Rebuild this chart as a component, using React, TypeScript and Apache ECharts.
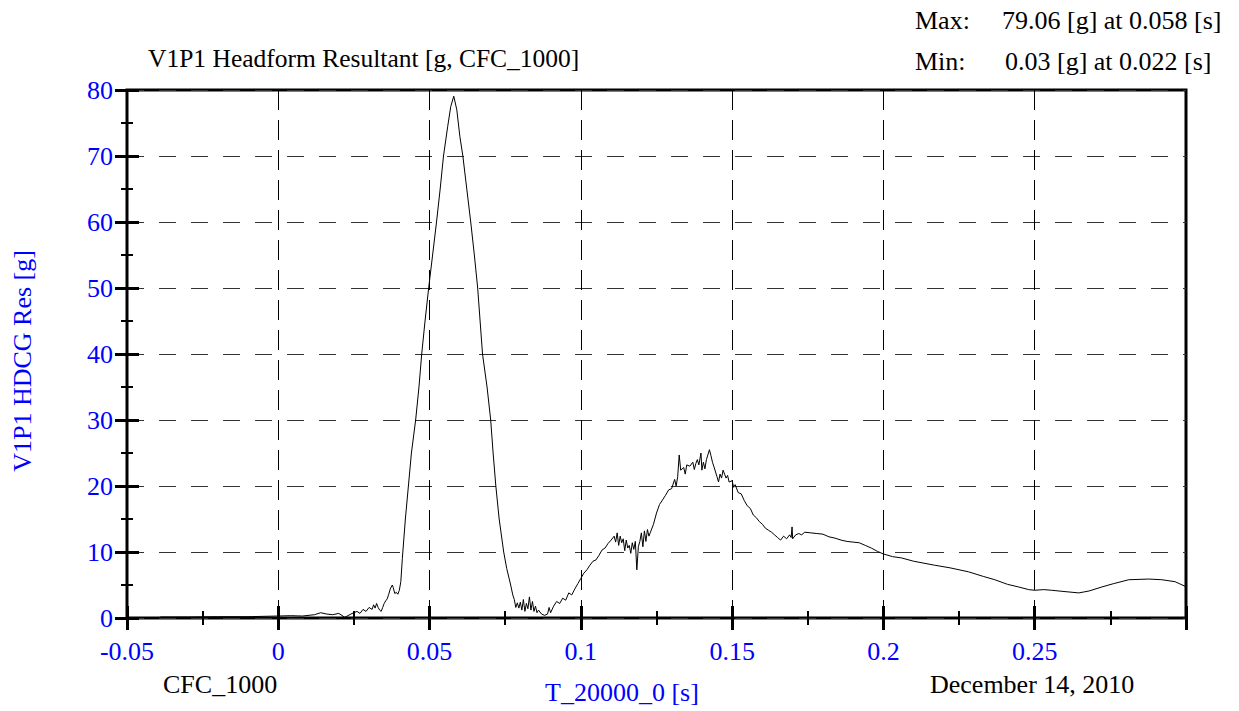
import React, { useEffect, useRef } from "react";
import * as echarts from "echarts";

// Time [s] / acceleration [g] samples, by segment
const baseline: [number, number][] = [
  [-0.039, 0.15], [-0.03, 0.15], [-0.02, 0.2], [-0.01, 0.2], [0.0, 0.3], [0.004, 0.35],
  [0.008, 0.3], [0.012, 0.5], [0.014, 0.8], [0.016, 0.6], [0.018, 0.5], [0.02, 0.7],
  [0.022, 0.1], [0.024, 0.6], [0.026, 1.0], [0.027, 0.7], [0.028, 1.3], [0.029, 1.0],
  [0.03, 1.6], [0.031, 1.3], [0.0315, 2.0], [0.032, 1.5], [0.0325, 2.2], [0.033, 1.6],
  [0.0335, 1.2], [0.034, 1.0], [0.0345, 1.6], [0.035, 2.2], [0.0355, 2.6], [0.036, 2.9],
  [0.0365, 3.6], [0.037, 4.4], [0.0377, 5.0], [0.038, 4.6], [0.0385, 3.7], [0.039, 3.9],
  [0.0395, 3.6], [0.04, 4.2],
];
const impactPeak: [number, number][] = [
  [0.0405, 5.5], [0.041, 9], [0.042, 15], [0.043, 20], [0.044, 25], [0.0454, 30],
  [0.0465, 35], [0.0474, 40], [0.0485, 45], [0.0497, 50], [0.051, 55], [0.0523, 60],
  [0.0535, 65], [0.0546, 70], [0.056, 74.5], [0.057, 77.5], [0.058, 79.06], [0.059, 77],
  [0.06, 73], [0.061, 70], [0.0623, 65], [0.0636, 60], [0.0648, 55], [0.0659, 50],
  [0.0667, 45], [0.0675, 40], [0.069, 35], [0.0702, 30], [0.071, 25], [0.0719, 20],
  [0.073, 15], [0.0745, 10], [0.0755, 7.5], [0.0768, 5], [0.0775, 3.5],
];
const trough: [number, number][] = [
  [0.078, 2.8], [0.0785, 1.6], [0.079, 2.3], [0.0795, 1.5], [0.08, 2.4], [0.0805, 1.2],
  [0.081, 2.8], [0.0815, 1.0], [0.082, 2.2], [0.0825, 1.4], [0.083, 3.2], [0.0835, 1.2],
  [0.084, 2.5], [0.0845, 1.0], [0.085, 1.8], [0.0855, 0.8], [0.086, 1.2], [0.087, 0.6],
  [0.088, 0.4], [0.089, 0.6], [0.0895, 1.6], [0.09, 0.8], [0.091, 1.8], [0.092, 2.5],
  [0.093, 2.2], [0.094, 3.0], [0.095, 2.7], [0.096, 3.8], [0.097, 3.5], [0.098, 4.4],
  [0.099, 5.2], [0.1, 6.0], [0.101, 6.8], [0.102, 7.3], [0.103, 8.0], [0.104, 8.6],
  [0.105, 8.8], [0.106, 9.5], [0.107, 10.3], [0.108, 10.6], [0.109, 11.3], [0.11, 11.8],
];
const reboundHump: [number, number][] = [
  [0.111, 12.4], [0.1115, 11.5], [0.112, 12.9], [0.1125, 11.0], [0.113, 12.4], [0.1135, 11.4],
  [0.114, 12.0], [0.1145, 10.2], [0.115, 11.8], [0.1155, 10.6], [0.116, 11.0], [0.1165, 9.8],
  [0.117, 11.4], [0.1175, 10.4], [0.118, 11.6], [0.1185, 7.3], [0.119, 10.8], [0.1195, 11.6],
  [0.12, 12.9], [0.1205, 10.8], [0.121, 13.2], [0.1215, 11.6], [0.122, 13.4], [0.1225, 12.4],
  [0.123, 13.0], [0.124, 14.2], [0.125, 15.9], [0.126, 17.2], [0.127, 17.9], [0.128, 18.6],
  [0.129, 19.4], [0.13, 19.6], [0.131, 21.0], [0.1315, 20.0], [0.132, 21.4], [0.1325, 24.7],
  [0.133, 22.4], [0.134, 22.8], [0.1345, 21.8], [0.135, 23.2], [0.136, 23.0], [0.137, 23.6],
  [0.1375, 22.5], [0.138, 23.4], [0.1385, 24.0], [0.139, 23.2], [0.1397, 25.0], [0.14, 22.4],
  [0.1405, 23.6], [0.141, 22.6], [0.1415, 24.0], [0.1425, 25.5], [0.143, 24.6], [0.1435, 23.6],
  [0.144, 22.9], [0.145, 21.4], [0.1455, 20.6], [0.146, 21.8], [0.1465, 21.2], [0.147, 22.4],
  [0.1475, 21.8], [0.148, 21.2], [0.1485, 21.6], [0.149, 20.6], [0.15, 20.8], [0.1505, 19.8],
  [0.151, 20.2], [0.152, 19.0], [0.153, 18.8], [0.154, 17.8], [0.155, 17.0], [0.156, 16.6],
  [0.157, 15.6], [0.158, 15.2], [0.159, 14.6], [0.16, 14.2],
];
const tail: [number, number][] = [
  [0.161, 13.6], [0.162, 13.3], [0.163, 13.0], [0.164, 12.6], [0.165, 12.2], [0.166, 11.8],
  [0.167, 12.4], [0.168, 12.0], [0.169, 12.6], [0.1695, 12.2], [0.1698, 13.8], [0.17, 12.0],
  [0.171, 12.6], [0.172, 12.8], [0.173, 12.6], [0.174, 13.0], [0.176, 12.9], [0.178, 12.8],
  [0.18, 12.7], [0.182, 12.3], [0.184, 12.1], [0.186, 11.8], [0.188, 11.6], [0.19, 11.5],
  [0.192, 11.4], [0.194, 11.0], [0.196, 10.6], [0.198, 10.1], [0.2, 9.7], [0.203, 9.3],
  [0.206, 9.1], [0.21, 8.6], [0.2169, 8.0], [0.222, 7.6], [0.2281, 7.0], [0.233, 6.3],
  [0.2368, 5.8], [0.241, 5.1], [0.2447, 4.7], [0.248, 4.3], [0.25, 4.2], [0.253, 4.3],
  [0.2556, 4.2], [0.26, 4.0], [0.2646, 3.8], [0.268, 4.1], [0.2722, 4.7], [0.276, 5.2],
  [0.2811, 5.8], [0.2877, 5.9], [0.292, 5.8], [0.2964, 5.5], [0.2997, 4.8],
];

const xMin = -0.05;
const xMax = 0.3;
const xStep = 0.05;
const yMin = 0;
const yMax = 80;
const yStep = 10;

const titleText = "V1P1 Headform Resultant [g, CFC_1000]";
const maxLabel = "Max:";
const maxValue = "79.06 [g] at 0.058 [s]";
const minLabel = "Min:";
const minValue = "0.03 [g] at 0.022 [s]";
const filterText = "CFC_1000";
const xName = "T_20000_0 [s]";
const yName = "V1P1 HDCG Res [g]";
const dateText = "December 14, 2010";

const FONT = "'Liberation Serif', 'Times New Roman', serif";
const BLUE = "#0000ff";

export default function App() {
  const ref = useRef<HTMLDivElement>(null);
  useEffect(() => {
    if (!ref.current) return;
    const chart = echarts.init(ref.current, undefined, { renderer: "svg" });
    const data = [...baseline, ...impactPeak, ...trough, ...reboundHump, ...tail];
    const gridPos = { left: 127, top: 90, right: 53, bottom: 93 };
    const xLabelFmt = (v: number) => {
      if (Math.abs(v - xMax) < 1e-9) return "";
      const r = Math.round(v * 100) / 100;
      return String(r);
    };
    const txt = (text: string, x: number, y: number, fill = "#000", size = 26) => ({
      type: "text",
      x,
      y,
      style: {
        text,
        fill,
        fontSize: size,
        fontFamily: FONT,
        textAlign: "left",
        textVerticalAlign: "middle",
        verticalAlign: "middle",
      },
    });
    const hiddenLine = { show: false, onZero: false };
    const majorTick = (inside: boolean) => ({
      show: true,
      inside,
      length: 12,
      lineStyle: { color: "#000", width: 3 },
    });
    const minorTick = (len: number) => ({
      show: true,
      splitNumber: 2,
      length: len,
      lineStyle: { color: "#000", width: 2 },
    });
    chart.setOption({
      animation: false,
      backgroundColor: "#fff",
      grid: [
        { ...gridPos, show: true, borderColor: "#000", borderWidth: 3, backgroundColor: "transparent" },
        { ...gridPos, show: false },
      ],
      xAxis: [
        {
          type: "value",
          gridIndex: 0,
          min: xMin,
          max: xMax,
          interval: xStep,
          position: "bottom",
          axisLine: hiddenLine,
          axisTick: majorTick(false),
          minorTick: minorTick(7),
          axisLabel: { color: BLUE, fontFamily: FONT, fontSize: 26, margin: 20, formatter: xLabelFmt },
          splitLine: { show: true, lineStyle: { color: "#000", width: 1, type: [20, 10] } },
        },
        {
          type: "value",
          gridIndex: 1,
          min: xMin,
          max: xMax,
          interval: xStep,
          position: "bottom",
          axisLine: hiddenLine,
          axisTick: majorTick(true),
          minorTick: minorTick(7),
          axisLabel: { show: false },
          splitLine: { show: false },
        },
      ],
      yAxis: [
        {
          type: "value",
          gridIndex: 0,
          min: yMin,
          max: yMax,
          interval: yStep,
          position: "left",
          axisLine: hiddenLine,
          axisTick: majorTick(false),
          minorTick: minorTick(6),
          axisLabel: { color: BLUE, fontFamily: FONT, fontSize: 26, margin: 14 },
          splitLine: { show: true, lineStyle: { color: "#333", width: 1, type: [17, 15] } },
        },
        {
          type: "value",
          gridIndex: 1,
          min: yMin,
          max: yMax,
          interval: yStep,
          position: "left",
          axisLine: hiddenLine,
          axisTick: majorTick(true),
          minorTick: minorTick(6),
          axisLabel: { show: false },
          splitLine: { show: false },
        },
      ],
      series: [
        {
          type: "line",
          xAxisIndex: 0,
          yAxisIndex: 0,
          data,
          showSymbol: false,
          symbol: "none",
          lineStyle: { color: "#000", width: 1 },
          z: 3,
        },
      ],
      graphic: [
        txt(titleText, 148, 58, "#000", 25.5),
        txt(maxLabel, 915, 20),
        txt(maxValue, 1002, 20),
        txt(minLabel, 915, 61),
        txt(minValue, 1005, 61),
        txt(filterText, 163, 684),
        txt(xName, 545, 692, BLUE),
        txt(dateText, 930, 684),
        {
          type: "text",
          x: 22,
          y: 361,
          rotation: Math.PI / 2,
          style: {
            text: yName,
            fill: BLUE,
            fontSize: 26,
            fontFamily: FONT,
            textAlign: "center",
            textVerticalAlign: "middle",
            verticalAlign: "middle",
          },
        },
      ],
    });
    return () => chart.dispose();
  }, []);
  return (
    <div
      ref={ref}
      style={{ position: "absolute", left: 0, top: 0, width: 1239, height: 711, background: "#fff" }}
    />
  );
}
